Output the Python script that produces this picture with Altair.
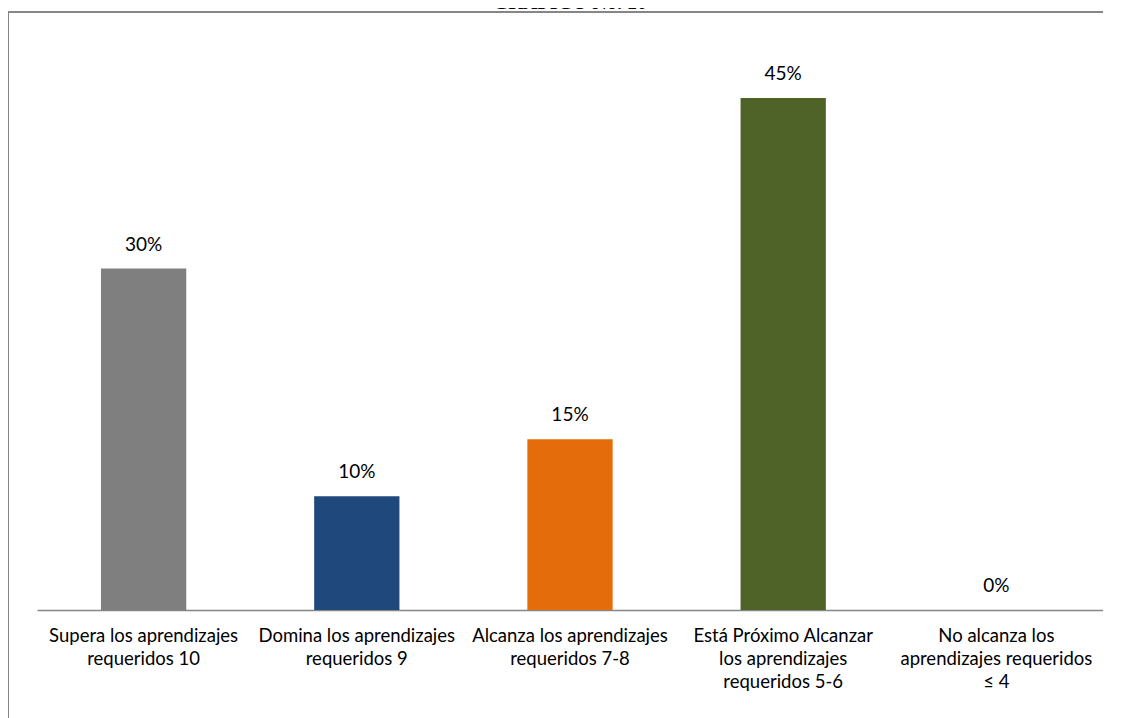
import altair as alt
import pandas as pd

categories = [
    "Supera los aprendizajes|requeridos 10",
    "Domina los aprendizajes|requeridos 9",
    "Alcanza los aprendizajes|requeridos 7-8",
    "Está Próximo Alcanzar|los aprendizajes|requeridos 5-6",
    "No alcanza los|aprendizajes requeridos|≤ 4",
]
values = [0.30, 0.10, 0.15, 0.45, 0.0]
colors = ["#7F7F7F", "#1F497D", "#E46C0A", "#4F6228", "#C0504D"]
title_text = "GRÁFICO No. 10"

df = pd.DataFrame({"cat": categories, "val": values, "color": colors})
FONT = "Lato"

x = alt.X("cat:N", sort=categories, title=None,
          scale=alt.Scale(paddingInner=0.6, paddingOuter=0.3),
          axis=alt.Axis(labelExpr="split(datum.label, '|')", labelAngle=0,
                        labelFont=FONT, labelFontSize=18.5, labelColor="#000000",
                        labelLineHeight=23, labelPadding=16, ticks=False,
                        domainColor="#868686", domainWidth=1.5, labelLimit=0))
y = alt.Y("val:Q", scale=alt.Scale(domain=[0, 0.5]), axis=None)

bars = alt.Chart(df).mark_bar().encode(x=x, y=y, color=alt.Color("color:N", scale=None))
labels = alt.Chart(df).mark_text(dy=-14, font=FONT, fontSize=19, color="#000000", baseline="bottom").encode(
    x=alt.X("cat:N", sort=categories), y="val:Q",
    text=alt.Text("val:Q", format=".0%"))

frame_left = alt.Chart(df).mark_rule(color="#868686", strokeWidth=2).encode(
    x=alt.value(-29), y=alt.value(-29), y2=alt.value(720))
frame_top = alt.Chart(df).mark_rule(color="#868686", strokeWidth=2).encode(
    x=alt.value(-29), x2=alt.value(1100), y=alt.value(-29))
title = alt.Chart(pd.DataFrame({"t": [title_text]})).mark_text(
    font="Liberation Serif", fontSize=20, fontWeight="bold", baseline="alphabetic", color="#000000"
).encode(x=alt.value(533), y=alt.value(-32), text="t:N")

chart = alt.layer(bars, labels, frame_left, frame_top, title).properties(
    width=1066, height=569,
    autosize=alt.AutoSizeParams(type="none"),
    padding={"left": 29, "top": 33, "right": 0, "bottom": 110},
).configure(background="#FFFFFF").configure_view(stroke=None)

chart.save("out.html", embed_options={"renderer": "svg", "actions": False})
